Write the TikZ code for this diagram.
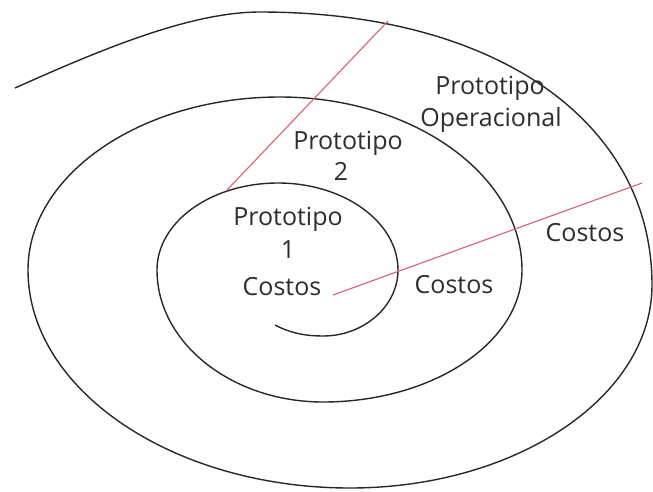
\documentclass[tikz,border=0pt]{standalone}
\usepackage{fontspec}
\setmainfont{Open Sans}
\definecolor{spiralc}{RGB}{40,40,40}
\definecolor{redc}{RGB}{222,95,115}
\definecolor{textc}{RGB}{45,45,45}
\begin{document}
\begin{tikzpicture}[x=1pt,y=-1pt,
  spiral/.style={draw=spiralc,line width=1.4pt},
  redline/.style={draw=redc,line width=1.1pt},
  lbl/.style={inner sep=0pt,anchor=base,text=textc,font=\fontsize{25}{31}\selectfont}]
\useasboundingbox (0,0) rectangle (653,491);
% spiral
\draw[spiral] (275,325) .. controls (292,334) and (308,336) .. (323,336)
  .. controls (364,336) and (398,306) .. (398,270)
  .. controls (398,222) and (344,183) .. (278,183)
  .. controls (211,183) and (157,222) .. (157,270)
  .. controls (157,343) and (232,402) .. (323,402)
  .. controls (432,402) and (522,343) .. (522,270)
  .. controls (522,175) and (413,97) .. (280,97)
  .. controls (141,97) and (28,175) .. (28,270)
  .. controls (28,390) and (173,488) .. (350,488)
  .. controls (516,488) and (652,397) .. (652,285)
  .. controls (652,121) and (495,12) .. (260,12)
  .. controls (190,12) and (100,50) .. (15,88);
% red lines
\coordinate (r1a) at (227,190);
\coordinate (r1b) at (388,21);
\coordinate (r2a) at (333,295);
\coordinate (r2b) at (642,183);
\draw[redline] (r1a) -- (r1b);
\draw[redline] (r2a) -- (r2b);
% labels
\node[lbl] (op1) at (490,94) {Prototipo};
\node[lbl] (op2) at (491,126) {Operacional};
\node[lbl] (p2a) at (348,149) {Prototipo};
\node[lbl] (p2b) at (341,180) {2};
\node[lbl] (p1a) at (288,225) {Prototipo};
\node[lbl] (p1b) at (288,258) {1};
\node[lbl] (p1c) at (282,295) {Costos};
\node[lbl] (c2) at (454,293) {Costos};
\node[lbl] (c3) at (585,241) {Costos};
\end{tikzpicture}
\end{document}
